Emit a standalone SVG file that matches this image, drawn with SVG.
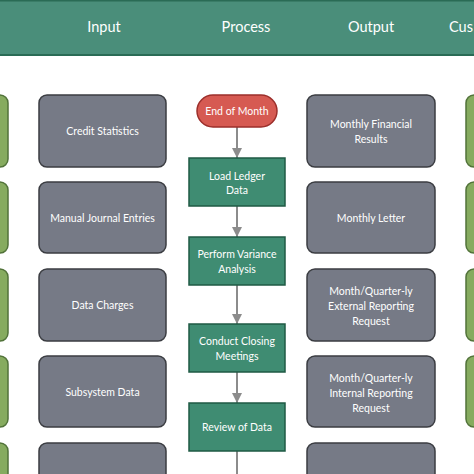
<svg xmlns="http://www.w3.org/2000/svg" width="474" height="474" viewBox="0 0 474 474">
<defs>
<style>
.hdr{font-family:Lato,"Open Sans",sans-serif;font-size:14.5px;fill:#ffffff;text-anchor:middle}
.t{font-family:Lato,"Open Sans",sans-serif;font-size:10.5px;fill:#ffffff;text-anchor:middle}
.gray{fill:#767a86;stroke:#3b3d42;stroke-width:1.5}
.green{fill:#86ab5f;stroke:#52733a;stroke-width:1.5}
.proc{fill:#3f8c72;stroke:#1f5a44;stroke-width:1.5}
.term{fill:#d65a52;stroke:#9c2f2b;stroke-width:1.5}
.conn{stroke:#8c8c8c;stroke-width:2;fill:none}
</style>
<marker id="ah" viewBox="0 0 10 10" refX="10" refY="5" markerWidth="5" markerHeight="5" orient="auto" markerUnits="strokeWidth">
<path d="M0,0 L10,5 L0,10 z" fill="#8c8c8c"/>
</marker>
</defs>
<rect width="474" height="474" fill="#ffffff"/>
<g id="header">
<rect x="0" y="0" width="474" height="55" fill="#4a8e7a"/>
<rect x="0" y="0" width="474" height="1.5" fill="#2a6b55"/>
<rect x="0" y="54" width="474" height="2" fill="#2a6b55"/>
<text class="hdr" x="104" y="32">Input</text>
<text class="hdr" x="246" y="32">Process</text>
<text class="hdr" x="371" y="32">Output</text>
<text class="hdr" x="449" y="32" style="text-anchor:start">Cus</text>
</g>
<g id="left-green">
<rect class="green" x="-30" y="95" width="38" height="72" rx="8"/>
<rect class="green" x="-30" y="182" width="38" height="71" rx="8"/>
<rect class="green" x="-30" y="269" width="38" height="72" rx="8"/>
<rect class="green" x="-30" y="356" width="38" height="71" rx="8"/>
<rect class="green" x="-30" y="443" width="38" height="72" rx="8"/>
</g>
<g id="right-green">
<rect class="green" x="466" y="95" width="38" height="72" rx="8"/>
<rect class="green" x="466" y="182" width="38" height="71" rx="8"/>
<rect class="green" x="466" y="269" width="38" height="72" rx="8"/>
<rect class="green" x="466" y="356" width="38" height="71" rx="8"/>
</g>
<g id="in1"><rect class="gray" x="39" y="95" width="127" height="72" rx="8"/><text class="t" x="102.5" y="135">Credit Statistics</text></g>
<g id="in2"><rect class="gray" x="39" y="182" width="127" height="71" rx="8"/><text class="t" x="102.5" y="222">Manual Journal Entries</text></g>
<g id="in3"><rect class="gray" x="39" y="269" width="127" height="72" rx="8"/><text class="t" x="102.5" y="309">Data Charges</text></g>
<g id="in4"><rect class="gray" x="39" y="356" width="127" height="71" rx="8"/><text class="t" x="102.5" y="396">Subsystem Data</text></g>
<g id="in5"><rect class="gray" x="39" y="443" width="127" height="72" rx="8"/></g>
<g id="out1"><rect class="gray" x="307" y="95" width="128" height="72" rx="8"/><text class="t" x="371" y="128">Monthly Financial</text><text class="t" x="371" y="143">Results</text></g>
<g id="out2"><rect class="gray" x="307" y="182" width="128" height="71" rx="8"/><text class="t" x="371" y="222">Monthly Letter</text></g>
<g id="out3"><rect class="gray" x="307" y="269" width="128" height="72" rx="8"/><text class="t" x="371" y="295">Month/Quarter-ly</text><text class="t" x="371" y="310">External Reporting</text><text class="t" x="371" y="325">Request</text></g>
<g id="out4"><rect class="gray" x="307" y="356" width="128" height="71" rx="8"/><text class="t" x="371" y="382">Month/Quarter-ly</text><text class="t" x="371" y="397">Internal Reporting</text><text class="t" x="371" y="412">Request</text></g>
<g id="out5"><rect class="gray" x="307" y="443" width="128" height="72" rx="8"/></g>
<g id="connectors">
<line class="conn" x1="237" y1="127" x2="237" y2="158" marker-end="url(#ah)"/>
<line class="conn" x1="237" y1="206" x2="237" y2="237" marker-end="url(#ah)"/>
<line class="conn" x1="237" y1="285" x2="237" y2="324" marker-end="url(#ah)"/>
<line class="conn" x1="237" y1="372" x2="237" y2="403" marker-end="url(#ah)"/>
<line class="conn" x1="237" y1="451" x2="237" y2="480"/>
</g>
<g id="p0"><rect class="term" x="197" y="95" width="80" height="32" rx="16"/><text class="t" x="237" y="115">End of Month</text></g>
<g id="p1"><rect class="proc" x="189" y="158" width="96" height="48"/><text class="t" x="237" y="180">Load Ledger</text><text class="t" x="237" y="194">Data</text></g>
<g id="p2"><rect class="proc" x="189" y="237" width="96" height="48"/><text class="t" x="237" y="258">Perform Variance</text><text class="t" x="237" y="273">Analysis</text></g>
<g id="p3"><rect class="proc" x="189" y="324" width="96" height="48"/><text class="t" x="237" y="345">Conduct Closing</text><text class="t" x="237" y="360">Meetings</text></g>
<g id="p4"><rect class="proc" x="189" y="403" width="96" height="48"/><text class="t" x="237" y="431">Review of Data</text></g>
</svg>
